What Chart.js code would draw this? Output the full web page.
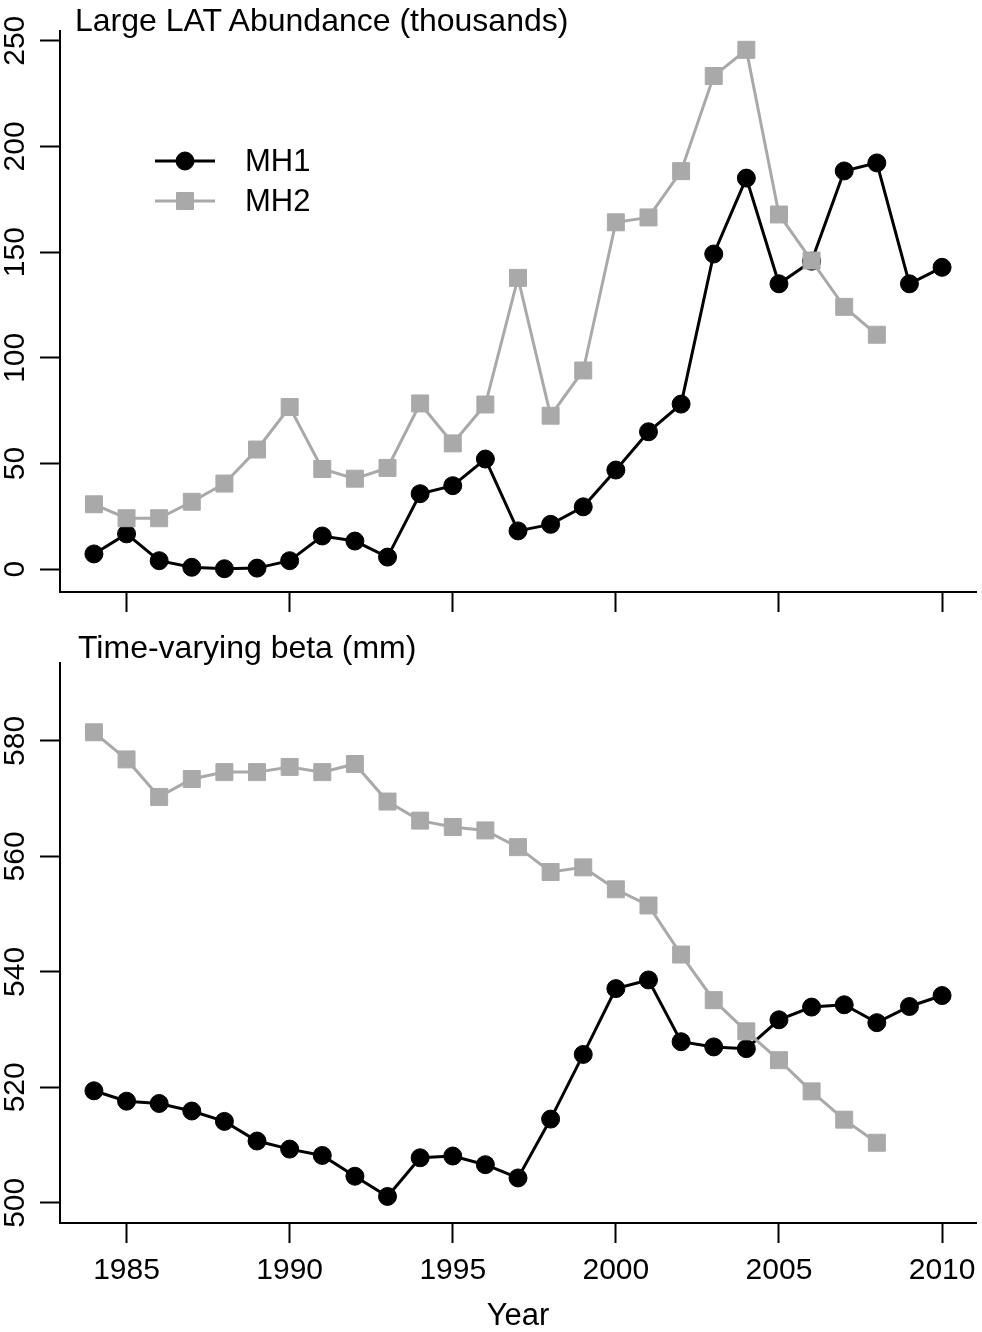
<!DOCTYPE html>
<html>
<head>
<meta charset="utf-8">
<script src="https://cdn.jsdelivr.net/npm/chart.js@4.4.1/dist/chart.umd.min.js"></script>
<style>
  body { margin: 0; background: #fff; }
  #wrap { position: relative; width: 982px; height: 1332px; }
  canvas { position: absolute; left: 0; }
  .panel-title { position: absolute; font-family: "Liberation Sans", Arial, sans-serif; font-size: 32px; line-height: 32px; color: #000; white-space: nowrap; }
</style>
</head>
<body>
<div id="wrap">
  <canvas id="grafico-abundancia" width="982" height="620" style="top:0"></canvas>
  <canvas id="grafico-beta" width="982" height="712" style="top:620px"></canvas>
  <div class="panel-title" style="left:75px; top:4px">Large LAT Abundance (thousands)</div>
  <div class="panel-title" style="left:78px; top:631px">Time-varying beta (mm)</div>
</div>
<script>
var years = [1984, 1985, 1986, 1987, 1988, 1989, 1990, 1991, 1992, 1993, 1994, 1995, 1996,
             1997, 1998, 1999, 2000, 2001, 2002, 2003, 2004, 2005, 2006, 2007, 2008, 2009, 2010];
var seriesNames = ['MH1', 'MH2'];

// large LAT abundance (thousands)
var abundMH1 = [7.2, 16.7, 4.0, 0.9, 0.2, 0.5, 4.0, 15.7, 13.3, 5.7, 35.7, 39.5, 52.1,
                18.1, 21.2, 29.5, 46.9, 65.0, 78.1, 149.1, 185.0, 135.0, 145.7, 188.4, 192.2, 135.0, 142.8];
var abundMH2 = [30.7, 24.1, 24.1, 31.9, 40.5, 56.6, 76.7, 47.4, 42.8, 47.9, 78.4, 59.5, 77.9,
                137.8, 72.6, 94.0, 164.1, 166.4, 188.3, 233.3, 245.7, 167.8, 146.0, 124.1, 110.9];

// time-varying beta (mm)
var betaMH1 = [519.4, 517.6, 517.2, 515.9, 514.1, 510.7, 509.3, 508.2, 504.6, 501.1, 507.8, 508.1, 506.6,
               504.3, 514.5, 525.7, 537.1, 538.6, 527.9, 527.0, 526.7, 531.7, 533.9, 534.3, 531.2, 534.0, 535.9];
var betaMH2 = [581.5, 576.8, 570.3, 573.4, 574.6, 574.6, 575.5, 574.6, 576.0, 569.5, 566.2, 565.1, 564.5,
               561.6, 557.3, 558.1, 554.3, 551.5, 543.0, 535.1, 529.7, 524.7, 519.3, 514.4, 510.4];

var xTicksStep = 5;
var abundTicksStep = 50;
var betaTicksStep = 20;

var FONT = '"Liberation Sans", Arial, Helvetica, sans-serif';
var GRAY = '#a9a9a9';

function toPoints(vals) {
    return vals.map(function(v, i) { return {x: years[i], y: v}; });
}

// legend drawn inside the plot like R's legend(): line with marker in the middle
var lineLegend = {
    id: 'lineLegend',
    afterDraw: function(chart, args, opts) {
        if (!opts.show) return;
        var ctx = chart.ctx;
        var rows = [161, 201];
        ctx.save();
        chart.data.datasets.forEach(function(ds, i) {
            var y = rows[i];
            ctx.strokeStyle = ds.borderColor;
            ctx.lineWidth = ds.borderWidth;
            ctx.beginPath();
            ctx.moveTo(155, y);
            ctx.lineTo(215, y);
            ctx.stroke();
            ctx.fillStyle = ds.pointBackgroundColor;
            ctx.strokeStyle = ds.pointBorderColor;
            ctx.lineWidth = 1;
            Chart.helpers.drawPoint(ctx, {pointStyle: ds.pointStyle, radius: ds.pointRadius, rotation: 0, borderWidth: 1}, 185, y);
            ctx.fillStyle = '#000';
            ctx.font = '31px ' + FONT;
            ctx.textAlign = 'left';
            ctx.textBaseline = 'middle';
            ctx.fillText(ds.label, 245, y + 1);
        });
        ctx.restore();
    }
};

function makePanel(id, mh1, mh2, yMin, yMax, yStep, opts) {
    var ctx = document.getElementById(id).getContext('2d');
    var config = {
        type: 'line',
        data: {
            datasets: [{
                label: seriesNames[0],
                data: toPoints(mh1),
                borderColor: '#000',
                borderWidth: 3,
                pointStyle: 'circle',
                pointRadius: 9,
                pointBackgroundColor: '#000',
                pointBorderColor: '#000',
                pointBorderWidth: 1,
                order: 1
            }, {
                label: seriesNames[1],
                data: toPoints(mh2),
                borderColor: GRAY,
                borderWidth: 3,
                pointStyle: 'rect',
                pointRadius: 12,
                pointBackgroundColor: GRAY,
                pointBorderColor: GRAY,
                pointBorderWidth: 1,
                order: 0
            }]
        },
        options: {
            responsive: false,
            animation: false,
            clip: false,
            layout: {
                autoPadding: false,
                padding: { top: opts.top, right: 6, left: 0, bottom: 0 }
            },
            plugins: {
                legend: { display: false },
                tooltip: { enabled: false },
                lineLegend: { show: opts.legend }
            },
            scales: {
                x: {
                    type: 'linear',
                    min: 1982.96,
                    max: 2011.04,
                    afterFit: function(scale) {
                        scale.height = opts.xHeight;
                        // keep the plot box the same width in both panels
                        scale.paddingLeft = 0;
                        scale.paddingRight = 0;
                        if (scale._margins) { scale._margins.left = 0; scale._margins.right = 0; }
                    },
                    border: { display: true, color: '#000', width: 2 },
                    grid: { drawOnChartArea: false, drawTicks: true, tickLength: 20, tickColor: '#000', tickWidth: 2 },
                    ticks: {
                        display: opts.xLabels,
                        stepSize: xTicksStep,
                        includeBounds: false,
                        autoSkip: false,
                        maxRotation: 0,
                        color: '#000',
                        padding: 10,
                        font: { family: FONT, size: 30 },
                        callback: function(v) { return String(v); }
                    },
                    title: {
                        display: opts.xLabels,
                        text: 'Year',
                        color: '#000',
                        padding: 0,
                        font: { family: FONT, size: 31, lineHeight: 1 }
                    }
                },
                y: {
                    type: 'linear',
                    min: yMin,
                    max: yMax,
                    afterFit: function(scale) { scale.width = 60; },
                    border: { display: true, color: '#000', width: 2 },
                    grid: { drawOnChartArea: false, drawTicks: true, tickLength: 20, tickColor: '#000', tickWidth: 2 },
                    ticks: {
                        stepSize: yStep,
                        includeBounds: false,
                        minRotation: 90,
                        maxRotation: 90,
                        crossAlign: 'center',
                        padding: -1,
                        color: '#000',
                        font: { family: FONT, size: 30 }
                    }
                }
            }
        },
        plugins: [lineLegend]
    };
    return new Chart(ctx, config);
}

var grafico_abundancia = makePanel('grafico-abundancia', abundMH1, abundMH2, -10.8, 254.6, abundTicksStep,
    { top: 31, xHeight: 28, xLabels: false, legend: true });
var grafico_beta = makePanel('grafico-beta', betaMH1, betaMH2, 496.5, 593.5, betaTicksStep,
    { top: 43, xHeight: 109, xLabels: true, legend: false });
</script>
</body>
</html>
